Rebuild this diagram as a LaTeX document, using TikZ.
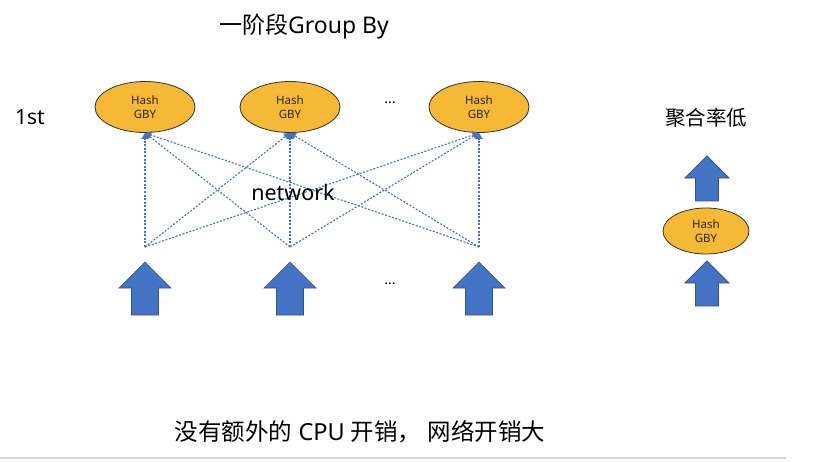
\documentclass[tikz,border=0pt]{standalone}
\usepackage{fontspec}
\setmainfont{Noto Sans}
\newfontfamily\cjk{Noto Sans CJK SC}
\usetikzlibrary{arrows.meta,shapes.geometric}
\definecolor{gold}{HTML}{F5B935}
\definecolor{ablue}{HTML}{4472C4}
\definecolor{ablueedge}{HTML}{2F528F}
\definecolor{rulegray}{HTML}{D4D4D4}
\tikzset{
  gby/.style={ellipse, draw=black!80, line width=0.8pt, fill=gold, minimum width=100pt, minimum height=51pt, inner sep=0pt, align=center, font=\fontsize{11.5}{14}\selectfont, text=black!85},
  gbysmall/.style={gby, minimum width=86pt, minimum height=46pt},
  net/.style={draw=ablue, line width=1.1pt, dash pattern=on 2pt off 1.6pt, -{Triangle[length=6pt,width=7pt]}},
  arrowfill/.style={fill=ablue, draw=ablueedge, line width=0.6pt, line join=miter},
  blockup/.pic={\path[arrowfill] (-13.5,27) -- (-13.5,0) -- (-26,0) -- (0,-26) -- (26,0) -- (13.5,0) -- (13.5,27) -- cycle;},
  lbl/.style={inner sep=0pt, text=black},
}
\begin{document}
\begin{tikzpicture}[x=1pt,y=-1pt]
\useasboundingbox (0,0) rectangle (828,461);
\fill[white] (0,0) rectangle (828,461);

% title
\node[lbl, font=\fontsize{23}{26}\selectfont] (title) at (304,27) {{\cjk 一阶段}Group By};
\node[lbl, font=\fontsize{21}{24}\selectfont] (first) at (30,117) {1st};

% hash GBY nodes
\node[gby] (g1) at (145,107) {Hash\\GBY};
\node[gby] (g2) at (290,107) {Hash\\GBY};
\node[gby] (g3) at (479,107) {Hash\\GBY};
\node[lbl, font=\fontsize{14}{16}\selectfont] (dots1) at (390,103) {...};

% bottom points of network
\coordinate (b1) at (145,247);
\coordinate (b2) at (290,247);
\coordinate (b3) at (479,247);

\foreach \b in {b1,b2,b3}{
  \foreach \g in {g1,g2,g3}{
    \draw[net] (\b) -- (\g.south);
  }
}
\node[lbl, font=\fontsize{21.5}{24}\selectfont] (network) at (293,192) {network};

% big input arrows
\pic at (145,288) {blockup};
\pic at (290,288) {blockup};
\pic at (479,288) {blockup};
\node[lbl, font=\fontsize{14}{16}\selectfont] (dots2) at (390,284) {...};

% right side
\node[lbl, font=\fontsize{20.5}{24}\selectfont] (rate) at (706,118) {\cjk 聚合率低};
\pic[scale=0.85] at (707,178) {blockup};
\node[gbysmall] (g4) at (706,231) {Hash\\GBY};
\pic[scale=0.85] at (707,283) {blockup};

% bottom caption
\node[lbl, font=\fontsize{23.5}{27}\selectfont] (caption) at (360,432) {{\cjk 没有额外的} CPU {\cjk 开销，} {\cjk 网络开销大}};

\draw[rulegray, line width=1.5pt] (0,458) -- (786,458);
\end{tikzpicture}
\end{document}
